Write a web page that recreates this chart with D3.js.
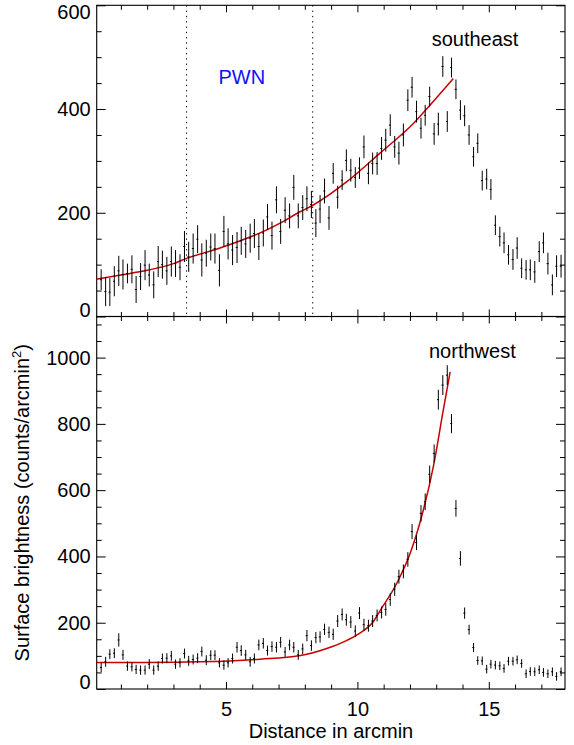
<!DOCTYPE html>
<html>
<head>
<meta charset="utf-8">
<script src="https://cdn.jsdelivr.net/npm/d3@7"></script>
<style>
  body { margin: 0; background: #fff; }
  svg { display: block; font-family: "Liberation Sans", Arial, Helvetica, sans-serif; }
</style>
</head>
<body>
<svg id="chart" width="574" height="745"></svg>
<script>
// bin centres in arcmin (shared by both profiles)
const radius = [
  0.25, 0.42, 0.58, 0.75, 0.92, 1.08, 1.25, 1.42, 1.58, 1.75, 1.92, 2.08,
  2.25, 2.42, 2.58, 2.75, 2.92, 3.08, 3.25, 3.42, 3.58, 3.75, 3.92, 4.08,
  4.25, 4.42, 4.58, 4.75, 4.92, 5.08, 5.25, 5.42, 5.58, 5.75, 5.92, 6.08,
  6.25, 6.42, 6.58, 6.75, 6.92, 7.08, 7.25, 7.42, 7.58, 7.75, 7.92, 8.08,
  8.25, 8.42, 8.58, 8.75, 8.92, 9.08, 9.25, 9.42, 9.58, 9.75, 9.92, 10.08,
  10.25, 10.42, 10.58, 10.75, 10.92, 11.08, 11.25, 11.42, 11.58, 11.75, 11.92, 12.08,
  12.25, 12.42, 12.58, 12.75, 12.92, 13.08, 13.25, 13.42, 13.58, 13.75, 13.92, 14.08,
  14.25, 14.42, 14.58, 14.75, 14.92, 15.08, 15.25, 15.42, 15.58, 15.75, 15.92, 16.08,
  16.25, 16.42, 16.58, 16.75, 16.92, 17.08, 17.25, 17.42, 17.58, 17.75
];

// southeast profile
const seBright = [
  71, 48, 47, 68, 88, 81, 83, 91, 52, 77, 99, 80,
  61, 106, 100, 88, 106, 102, 95, 135, 115, 131, 149, 109,
  122, 134, 131, 89, 164, 140, 128, 133, 146, 140, 151, 160,
  135, 161, 192, 156, 225, 164, 205, 194, 249, 194, 210, 227,
  216, 180, 207, 242, 190, 276, 230, 263, 301, 282, 268, 286,
  327, 276, 295, 295, 324, 340, 369, 327, 315, 350, 417, 442,
  395, 363, 388, 424, 352, 371, 482, 376, 480, 438, 398, 387,
  350, 308, 334, 262, 265, 245, 176, 154, 142, 119, 110, 132,
  93, 90, 90, 86, 125, 142, 102, 61, 97, 97
];
const seErr = [
  20, 28, 27, 29, 29, 29, 19, 27, 26, 26, 29, 22,
  26, 30, 27, 27, 29, 26, 25, 30, 29, 29, 27, 32,
  26, 26, 29, 31, 30, 30, 29, 30, 27, 27, 28, 28,
  26, 26, 25, 27, 26, 24, 25, 24, 24, 24, 24, 24,
  26, 27, 27, 24, 23, 20, 22, 19, 21, 22, 20, 21,
  22, 21, 21, 22, 22, 22, 21, 21, 22, 22, 21, 20,
  21, 20, 20, 19, 21, 22, 20, 20, 19, 19, 19, 20,
  19, 19, 19, 19, 20, 20, 19, 19, 20, 19, 20, 21,
  19, 19, 20, 21, 20, 20, 21, 20, 21, 22
];

// northwest profile
const nwBright = [
  65, 82, 105, 108, 148, 103, 69, 67, 59, 57, 57, 75,
  57, 69, 92, 93, 100, 75, 79, 107, 85, 89, 93, 113,
  87, 102, 102, 79, 72, 79, 92, 126, 116, 103, 82, 92,
  133, 138, 116, 128, 126, 141, 112, 133, 126, 103, 121, 161,
  131, 155, 157, 180, 171, 165, 205, 225, 209, 202, 175, 229,
  194, 191, 205, 222, 231, 240, 270, 301, 339, 355, 391, 475,
  442, 530, 565, 648, 711, 873, 917, 947, 801, 545, 394, 229,
  179, 125, 86, 85, 60, 75, 72, 70, 62, 84, 84, 88,
  77, 46, 53, 52, 58, 50, 46, 52, 38, 52
];
const nwErr = [
  14, 15, 15, 15, 20, 15, 14, 14, 14, 14, 14, 15,
  14, 14, 15, 15, 15, 14, 14, 15, 15, 15, 15, 15,
  15, 15, 15, 14, 14, 14, 15, 16, 16, 15, 15, 15,
  16, 16, 15, 16, 16, 16, 15, 16, 16, 15, 16, 17,
  16, 17, 17, 17, 17, 17, 18, 18, 18, 18, 17, 18,
  18, 18, 18, 18, 18, 19, 19, 20, 21, 21, 22, 23,
  23, 25, 25, 26, 27, 30, 30, 30, 29, 25, 22, 17,
  15, 14, 13, 13, 13, 13, 13, 13, 13, 13, 13, 13,
  13, 13, 13, 13, 13, 13, 13, 13, 13, 13
];

// fitted model curves
const seModelR = [0.08, 1, 2, 3, 3.5, 4.77, 6.55, 7.06, 7.82, 8.32, 9.6, 10.86, 12.13, 12.77, 13.65];
const seModel  = [72, 80, 89, 102, 112, 132, 167, 180, 202, 215, 260, 315, 372, 408, 459];
const nwModelR = [0.08, 2, 4, 6.3, 7.78, 8.86, 9.5, 10, 10.63, 10.86, 11.5, 12.03, 12.51, 12.89, 13.27, 13.53];
const nwModel  = [80, 80, 82, 90, 100, 123, 143, 164, 206, 236, 319, 414, 540, 671, 842, 957];

// PWN boundaries (dotted lines, southeast panel)
const pwnEdges = [3.5, 8.3];

const topTicks = [0, 200, 400, 600];
const botTicks = [0, 200, 400, 600, 800, 1000];
const xTicks = [5, 10, 15];

const svg = d3.select("#chart");
const L = 96.7, R = 565, T = 5.3, M = 316.5, B = 689;

const x = d3.scaleLinear().domain([0.08, 17.9]).range([L, R]);
const yTop = d3.scaleLinear().domain([0, 600]).range([M, T]);
const yBot = d3.scaleLinear().domain([0, 1124]).range([B, M]);

const xMinor = d3.range(1, 18).filter(v => v % 5 !== 0);

function drawPanel(y, top, bottom, majors, maxMinor, vals, errs, modelR, modelV, withXLabels) {
  const g = svg.append("g");
  const yMinor = d3.range(0, maxMinor + 1, 50).filter(v => !majors.includes(v));

  // left axis
  g.append("g").attr("transform", `translate(${L},0)`)
    .call(d3.axisLeft(y).tickValues(yMinor).tickSize(-5).tickFormat(""));
  const left = g.append("g").attr("transform", `translate(${L},0)`)
    .call(d3.axisLeft(y).tickValues(majors).tickSize(-9).tickSizeOuter(0)
      .tickPadding(6).tickFormat(d3.format("d")));
  left.selectAll("text")
    .attr("font-size", 20)
    .attr("fill", "#000")
    .attr("y", d => {
      const py = y(d);
      if (py - top < 6) return 6.5;
      if (bottom - py < 6) return -6.5;
      return 0;
    });

  // right axis
  g.append("g").attr("transform", `translate(${R},0)`)
    .call(d3.axisRight(y).tickValues(yMinor).tickSize(-5).tickFormat(""));
  g.append("g").attr("transform", `translate(${R},0)`)
    .call(d3.axisRight(y).tickValues(majors).tickSize(-9).tickFormat(""));

  // top / bottom x axes
  g.append("g").attr("transform", `translate(0,${top})`)
    .call(d3.axisTop(x).tickValues(xMinor).tickSize(-4.5).tickFormat(""));
  g.append("g").attr("transform", `translate(0,${top})`)
    .call(d3.axisTop(x).tickValues(xTicks).tickSize(-7).tickFormat(""));
  g.append("g").attr("transform", `translate(0,${bottom})`)
    .call(d3.axisBottom(x).tickValues(xMinor).tickSize(-4.5).tickFormat(""));
  const bx = g.append("g").attr("transform", `translate(0,${bottom})`)
    .call(d3.axisBottom(x).tickValues(xTicks).tickSize(-7).tickPadding(13)
      .tickFormat(withXLabels ? d3.format("d") : ""));
  bx.selectAll("text").attr("font-size", 20).attr("fill", "#000");

  g.selectAll(".domain").remove();
  g.selectAll(".tick line").attr("stroke", "#000");

  // frame
  g.append("rect")
    .attr("x", L).attr("y", top)
    .attr("width", R - L).attr("height", bottom - top)
    .attr("fill", "none").attr("stroke", "#000").attr("stroke-width", 1.1);

  // model
  g.append("path")
    .datum(modelR.map((r, i) => [r, modelV[i]]))
    .attr("fill", "none")
    .attr("stroke", "#c80000")
    .attr("stroke-width", 1.5)
    .attr("d", d3.line().x(d => x(d[0])).y(d => y(d[1])).curve(d3.curveMonotoneX));

  // data with error bars
  const pts = radius.map((r, i) => ({ r, v: vals[i], e: errs[i] }));
  const pg = g.append("g").attr("stroke", "#000").attr("stroke-width", 1);
  pg.selectAll("line.err").data(pts).join("line")
    .attr("class", "err")
    .attr("x1", d => x(d.r)).attr("x2", d => x(d.r))
    .attr("y1", d => y(d.v - d.e)).attr("y2", d => y(d.v + d.e));
  pg.selectAll("line.ctr").data(pts).join("line")
    .attr("class", "ctr")
    .attr("x1", d => x(d.r) - 1.3).attr("x2", d => x(d.r) + 0.7)
    .attr("y1", d => y(d.v)).attr("y2", d => y(d.v));

  return g;
}

const gTop = drawPanel(yTop, T, M, topTicks, 600, seBright, seErr, seModelR, seModel, false);
const gBot = drawPanel(yBot, M, B, botTicks, 1100, nwBright, nwErr, nwModelR, nwModel, true);

// PWN boundaries
gTop.selectAll("line.pwn").data(pwnEdges).join("line")
  .attr("class", "pwn")
  .attr("x1", d => x(d)).attr("x2", d => x(d))
  .attr("y1", T).attr("y2", M)
  .attr("stroke", "#000").attr("stroke-width", 1)
  .attr("stroke-dasharray", "1.3,4");

// labels
svg.append("text").attr("x", 218.5).attr("y", 84)
  .attr("font-size", 20).attr("fill", "#1010ff").text("PWN");
svg.append("text").attr("x", 431.7).attr("y", 46)
  .attr("font-size", 20).attr("fill", "#000").text("southeast");
svg.append("text").attr("x", 429).attr("y", 358)
  .attr("font-size", 20).attr("fill", "#000").text("northwest");

svg.append("text").attr("x", 331).attr("y", 737.5)
  .attr("text-anchor", "middle").attr("font-size", 20).attr("fill", "#000")
  .text("Distance in arcmin");

const yt = svg.append("text")
  .attr("transform", `translate(29,${(M + B) / 2}) rotate(-90)`)
  .attr("text-anchor", "middle").attr("font-size", 20).attr("fill", "#000");
yt.append("tspan").text("Surface brightness (counts/arcmin");
yt.append("tspan").attr("font-size", 13).attr("dy", -8).text("2");
yt.append("tspan").attr("dy", 8).text(")");
</script>
</body>
</html>
